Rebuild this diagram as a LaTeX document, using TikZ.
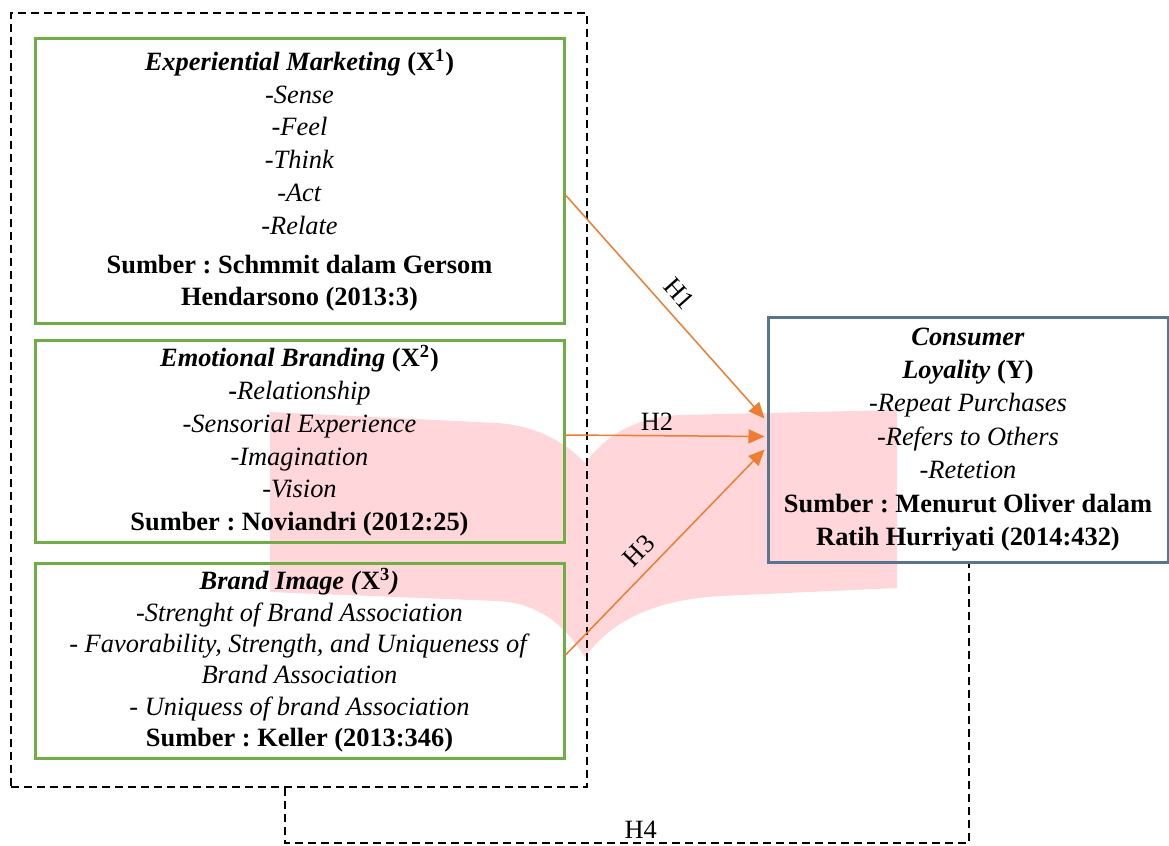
\documentclass[tikz,border=0pt]{standalone}
\usepackage{fontspec}
\setmainfont{Liberation Serif}
\usepackage{xcolor}
\usetikzlibrary{shapes,arrows,positioning,calc,arrows.meta}
\definecolor{boxgreen}{HTML}{70AD47}
\definecolor{boxslate}{HTML}{587590}
\definecolor{hyporange}{HTML}{ED7D31}
\definecolor{markpink}{HTML}{FFD6DA}
\frenchspacing

\begin{document}
\begin{tikzpicture}[x=0.5pt, y=-0.5pt, font=\fontsize{13.2}{16.4}\selectfont,
    varbox/.style={draw=boxgreen, line width=1.5pt, minimum width=264.5pt, align=center, inner sep=0pt},
    ybox/.style={draw=boxslate, line width=1.5pt, minimum width=200pt, minimum height=122.5pt, align=center, inner sep=0pt},
    grpbox/.style={draw, line width=0.9pt, dash pattern=on 4pt off 2.5pt, minimum width=288pt, minimum height=387pt, inner sep=0pt},
    hyp/.style={draw=hyporange, line width=0.75pt, -{Triangle[length=8pt,width=7pt]}},
    hfour/.style={draw, line width=0.8pt, dash pattern=on 4pt off 2.5pt},
    hlabel/.style={font=\fontsize{13.2}{16}\selectfont, inner sep=2pt}]
    \useasboundingbox (0,0) rectangle (1169,846);
    \fill[markpink] (270,412) -- (497,423) .. controls (540,426) and (568,445) .. (585,463)
        .. controls (603,440) and (628,418) .. (680,415) -- (897,410) -- (897,588)
        -- (720,596) .. controls (655,600) and (612,620) .. (585,657)
        .. controls (565,626) and (540,603) .. (497,601) -- (270,592) -- cycle;
    \node[grpbox] (grp) at (299,400) {};
    \node[varbox, minimum height=142.5pt] (xone) at (299.5,180.5) {%
        \textbf{\textit{Experiential Marketing}} \textbf{(X\textsuperscript{1})}\\
        \textit{-Sense}\\ \textit{-Feel}\\ \textit{-Think}\\ \textit{-Act}\\ \textit{-Relate}\\[3pt]
        \textbf{Sumber : Schmmit dalam Gersom}\\ \textbf{Hendarsono (2013:3)}};
    \node[varbox, minimum height=101pt] (xtwo) at (299.5,441) {%
        \textbf{\textit{Emotional Branding}} \textbf{(X\textsuperscript{2})}\\
        \textbf{-}\textit{Relationship}\\ \textit{-Sensorial Experience}\\ \textit{-Imagination}\\
        \textit{-Vision}\\ \textbf{Sumber : Noviandri (2012:25)}};
    \node[varbox, minimum height=97.5pt, font=\fontsize{13.2}{15.7}\selectfont] (xthree) at (299.5,660.5) {%
        \textbf{\textit{Brand Image (}X\textsuperscript{3}\textit{)}}\\
        \textit{-Strenght of Brand Association}\\
        \textit{- Favorability, Strength, and Uniqueness of}\\ \textit{Brand Association}\\
        \textit{- Uniquess of brand Association}\\ \textbf{Sumber : Keller (2013:346)}};
    \node[ybox, font=\fontsize{13.2}{16.7}\selectfont] (yone) at (968,439.5) {%
        \textbf{\textit{Consumer}}\\ \textbf{\textit{Loyality}} \textbf{(Y)}\\
        \textit{-Repeat Purchases}\\ \textit{-Refers to Others}\\ \textit{-Retetion}\\
        \textbf{Sumber : Menurut Oliver dalam}\\ \textbf{Ratih Hurriyati (2014:432)}};
    \draw[hyp] ($(xone.east)+(0,14.5)$) -- node[hlabel, pos=0.5, above=3pt, sloped] {H1} ($(yone.west)+(-2,-21)$);
    \draw[hyp] ($(xtwo.east)+(0,-6)$) -- node[hlabel, pos=0.46, above] {H2} ($(yone.west)+(-2,-3)$);
    \draw[hyp] ($(xthree.east)+(0,-5.5)$) -- node[hlabel, pos=0.44, above=3pt, sloped] {H3} ($(yone.west)+(-2,10)$);
    \coordinate (hfoura) at (285,843);
    \coordinate (hfourb) at (969,843);
    \draw[hfour] (grp.south -| hfoura) -- (hfoura) -- node[hlabel, pos=0.52, above] {H4} (hfourb) -- (yone.south -| hfourb);
\end{tikzpicture}
\end{document}
